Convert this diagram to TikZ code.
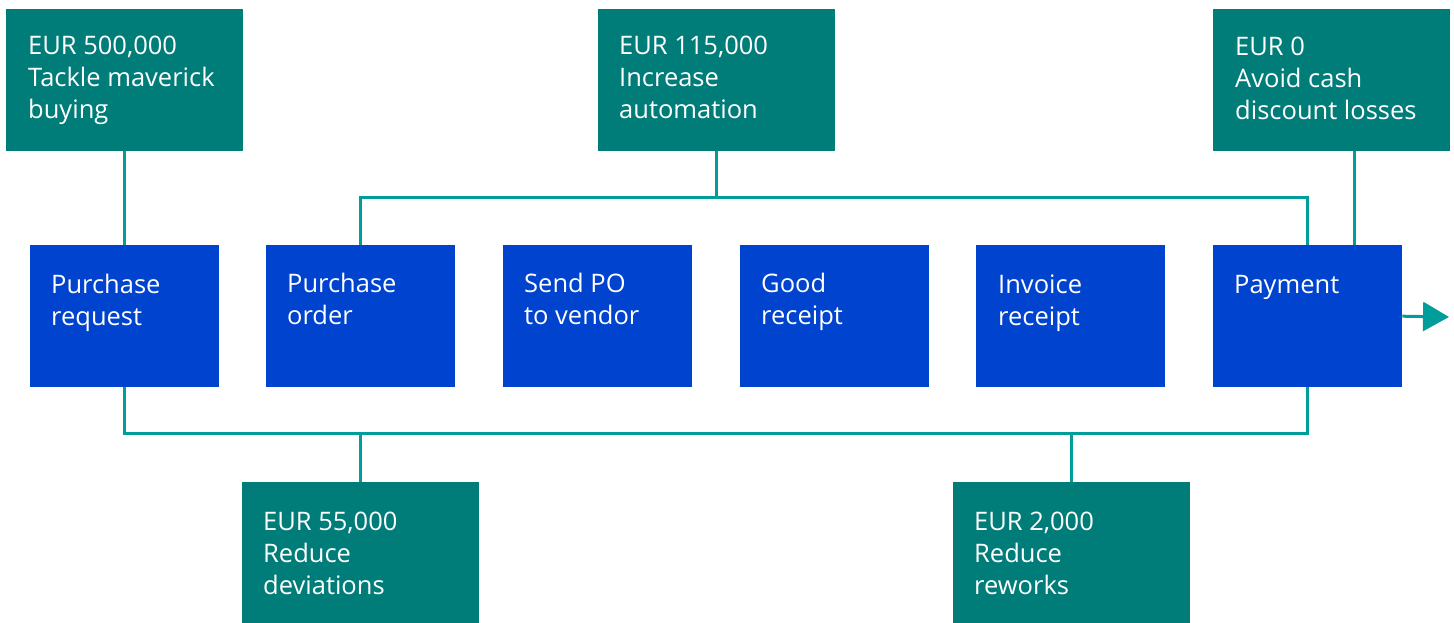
\documentclass[tikz,border=0pt]{standalone}
\usepackage{fontspec}
\setmainfont{Open Sans}
\usetikzlibrary{calc,arrows.meta}
\definecolor{tealbox}{HTML}{007D79}
\definecolor{bluebox}{HTML}{0043CE}
\definecolor{tealline}{HTML}{009D9A}
\tikzset{
  tbox/.style={fill=tealbox, draw=none, minimum width=237pt, minimum height=142pt, inner sep=0pt, anchor=north west},
  bbox/.style={fill=bluebox, draw=none, minimum width=189pt, minimum height=142pt, inner sep=0pt, anchor=north west},
  lbl/.style={anchor=base west, inner sep=0pt, text=white},
  conn/.style={draw=tealline, line width=3pt},
}
\newcommand{\lines}[1]{\parbox[t]{230pt}{\raggedright\fontsize{25.5}{32}\selectfont #1}}
\begin{document}
\begin{tikzpicture}[x=1pt,y=-1pt]
\useasboundingbox (0,0) rectangle (1454,623);
% top boxes
\node[tbox] (t1) at (6,9) {};
\node[tbox] (t2) at (598,9) {};
\node[tbox] (t3) at (1213,9) {};
% bottom boxes
\node[tbox] (b1) at (242,482) {};
\node[tbox] (b2) at (953,482) {};
% blue boxes
\node[bbox] (pr) at (30,245) {};
\node[bbox] (po) at (266,245) {};
\node[bbox] (sp) at (503,245) {};
\node[bbox] (gr) at (740,245) {};
\node[bbox] (ir) at (976,245) {};
\node[bbox] (pay) at (1213,245) {};
% labels
\node[lbl] (t1l) at ($(t1.north west)+(22,46)$) {\lines{EUR 500,000\\Tackle maverick\\buying}};
\node[lbl] (t2l) at ($(t2.north west)+(21,46)$) {\lines{EUR 115,000\\Increase\\automation}};
\node[lbl] (t3l) at ($(t3.north west)+(22,47)$) {\lines{EUR 0\\Avoid cash\\discount losses}};
\node[lbl] (b1l) at ($(b1.north west)+(21,48)$) {\lines{EUR 55,000\\Reduce\\deviations}};
\node[lbl] (b2l) at ($(b2.north west)+(21,48)$) {\lines{EUR 2,000\\Reduce\\reworks}};
\node[lbl] (prl) at ($(pr.north west)+(21,48)$) {\lines{Purchase\\request}};
\node[lbl] (pol) at ($(po.north west)+(21,47)$) {\lines{Purchase\\order}};
\node[lbl] (spl) at ($(sp.north west)+(21,47)$) {\lines{Send PO\\to vendor}};
\node[lbl] (grl) at ($(gr.north west)+(21,47)$) {\lines{Good\\receipt}};
\node[lbl] (irl) at ($(ir.north west)+(22,48)$) {\lines{Invoice\\receipt}};
\node[lbl] (payl) at ($(pay.north west)+(21,48)$) {\lines{Payment}};
% connectors
\coordinate (topbus) at (0,197);
\coordinate (botbus) at (0,433);
\draw[conn] (t1.south) -- (pr.north);
\draw[conn] (t2.south) -- (t2.south |- topbus);
\draw[conn] (po.north) -- (po.north |- topbus) -- (pay.north |- topbus) -- (pay.north);
\draw[conn] (t3.south -| {$(pay.north)+(47,0)$}) -- ($(pay.north)+(47,0)$);
\draw[conn] (pr.south) -- (pr.south |- botbus) -- (pay.south |- botbus) -- (pay.south);
\draw[conn] (b1.north) -- (b1.north |- botbus);
\draw[conn] (b2.north) -- (b2.north |- botbus);
\coordinate (arrowend) at (1449,317);
\draw[conn, -{Triangle[length=26pt,width=29pt]}] (pay.east) -- (arrowend);
\end{tikzpicture}
\end{document}
